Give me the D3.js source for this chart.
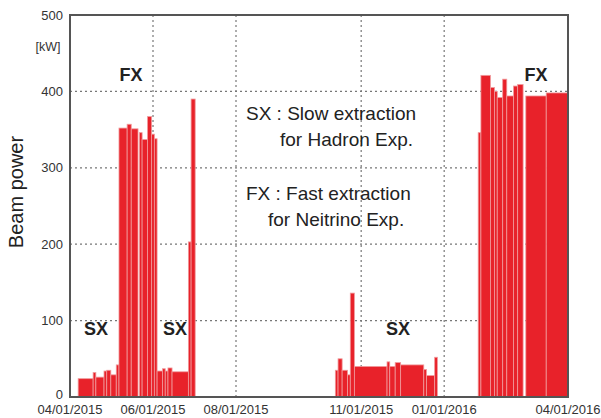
<!DOCTYPE html>
<html>
<head>
<meta charset="utf-8">
<script src="https://cdn.jsdelivr.net/npm/d3@7"></script>
<style>
  body { margin: 0; background: #fff; }
  svg { display: block; font-family: "Liberation Sans", Arial, sans-serif; }
</style>
</head>
<body>
<div id="chart"></div>
<script>
// step data: each step starts at stepDates[i] and lasts until stepDates[i+1]
var stepDates = [
  "2015-04-07", "2015-04-18", "2015-04-20", "2015-04-26", "2015-04-28", "2015-05-01", "2015-05-05",
  "2015-05-07", "2015-05-13", "2015-05-16", "2015-05-21", "2015-05-22", "2015-05-24", "2015-05-28", "2015-05-31", "2015-06-02",
  "2015-06-04", "2015-06-08", "2015-06-10", "2015-06-12", "2015-06-15", "2015-06-27", "2015-06-29", "2015-07-02",
  "2015-10-13", "2015-10-15", "2015-10-18", "2015-10-22", "2015-10-24", "2015-10-27", "2015-11-20", "2015-11-22", "2015-11-26", "2015-11-30", "2015-12-17", "2015-12-19", "2015-12-25", "2015-12-27",
  "2016-01-26", "2016-01-28", "2016-02-04", "2016-02-07", "2016-02-09", "2016-02-13", "2016-02-16", "2016-02-21", "2016-02-24", "2016-02-28", "2016-03-01", "2016-03-16", "2016-04-01"
];
var stepPower = [
  24, 32, 26, 34, 35, 29, 42,
  352, 357, 351, 0, 346, 337, 367, 344, 338,
  34, 37, 34, 38, 33, 203, 390, 0,
  35, 50, 35, 29, 136, 40, 46, 40, 45, 42, 36, 28, 52, 0,
  346, 421, 405, 400, 392, 416, 394, 407, 409, 0, 394, 398
];

var yTicks = [0, 100, 200, 300, 400, 500];
var xTicks = ["2015-04-01", "2015-06-01", "2015-08-01", "2015-11-01", "2016-01-01", "2016-04-01"];

var notes = [
  {text: "FX", x: 131, y: 81, bold: true},
  {text: "FX", x: 536, y: 81, bold: true},
  {text: "SX", x: 96, y: 335, bold: true},
  {text: "SX", x: 175, y: 335, bold: true},
  {text: "SX", x: 398, y: 335, bold: true},
  {text: "SX : Slow extraction", x: 246, y: 120, anchor: "start"},
  {text: "for Hadron Exp.", x: 280, y: 146, anchor: "start"},
  {text: "FX : Fast extraction", x: 246, y: 200, anchor: "start"},
  {text: "for Neitrino Exp.", x: 268, y: 226, anchor: "start"}
];

var W = 601, H = 418;
var parse = d3.utcParse("%Y-%m-%d");
var fmt = d3.utcFormat("%m/%d/%Y");

var x = d3.scaleUtc()
  .domain([parse("2015-04-01"), parse("2016-04-01")])
  .range([70, 568]);
var y = d3.scaleLinear().domain([0, 500]).range([397, 15]);

var svg = d3.select("#chart").append("svg")
  .attr("width", W).attr("height", H);

// grid
svg.append("g").selectAll("line")
  .data(yTicks.slice(1, -1))
  .enter().append("line")
  .attr("x1", 70).attr("x2", 568)
  .attr("y1", function(d){ return y(d); })
  .attr("y2", function(d){ return y(d); })
  .attr("stroke", "#777").attr("stroke-width", 1.2)
  .attr("stroke-dasharray", "2,3");

svg.append("g").selectAll("line")
  .data(xTicks.slice(1, -1))
  .enter().append("line")
  .attr("x1", function(d){ return x(parse(d)); })
  .attr("x2", function(d){ return x(parse(d)); })
  .attr("y1", 15).attr("y2", 397)
  .attr("stroke", "#777").attr("stroke-width", 1.2)
  .attr("stroke-dasharray", "2,3");

// bars
var steps = [];
for (var i = 0; i < stepPower.length; i++) {
  if (stepPower[i] > 0) {
    steps.push({t0: parse(stepDates[i]), t1: parse(stepDates[i + 1]), v: stepPower[i]});
  }
}
svg.append("g").selectAll("rect")
  .data(steps)
  .enter().append("rect")
  .attr("x", function(d){ return x(d.t0); })
  .attr("width", function(d){ return Math.max(1, x(d.t1) - x(d.t0)); })
  .attr("y", function(d){ return y(d.v); })
  .attr("height", function(d){ return y(0) - y(d.v); })
  .attr("fill", "#e8222a")
  .attr("stroke", "#f09a9c")
  .attr("stroke-width", 0.8);

// frame
svg.append("rect")
  .attr("x", 70).attr("y", 15)
  .attr("width", 498).attr("height", 382)
  .attr("fill", "none")
  .attr("stroke", "#555").attr("stroke-width", 2);

// axes labels
svg.append("g").selectAll("text")
  .data(yTicks)
  .enter().append("text")
  .attr("x", 63)
  .attr("y", function(d){ return d === 0 ? y(d) + 2 : y(d) + 4.5; })
  .attr("text-anchor", "end")
  .attr("font-size", 13)
  .attr("fill", "#333")
  .text(function(d){ return d; });

svg.append("g").selectAll("text")
  .data(xTicks)
  .enter().append("text")
  .attr("x", function(d){ return x(parse(d)); })
  .attr("y", 414)
  .attr("text-anchor", "middle")
  .attr("font-size", 13)
  .attr("fill", "#333")
  .text(function(d){ return fmt(parse(d)); });

svg.append("text")
  .attr("x", 48).attr("y", 51)
  .attr("text-anchor", "middle")
  .attr("font-size", 12.5).attr("fill", "#333")
  .text("[kW]");

svg.append("text")
  .attr("transform", "translate(23,192) rotate(-90)")
  .attr("text-anchor", "middle")
  .attr("font-size", 20).attr("fill", "#222")
  .text("Beam power");

svg.append("g").selectAll("text")
  .data(notes)
  .enter().append("text")
  .attr("x", function(d){ return d.x; })
  .attr("y", function(d){ return d.y; })
  .attr("text-anchor", function(d){ return d.anchor || "middle"; })
  .attr("font-size", function(d){ return d.bold ? 18 : 19; })
  .attr("font-weight", function(d){ return d.bold ? "bold" : "normal"; })
  .attr("fill", "#222")
  .text(function(d){ return d.text; });
</script>
</body>
</html>
